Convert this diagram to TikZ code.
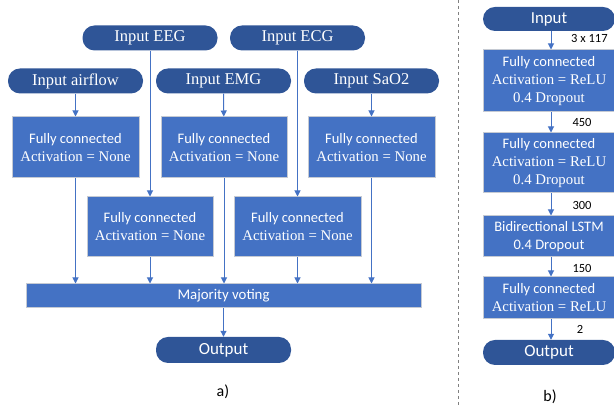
\documentclass[tikz,border=0pt]{standalone}
\usepackage{fontspec}
\setmainfont{Liberation Serif}
\newfontfamily\calib{Carlito}
\usetikzlibrary{arrows.meta}
\definecolor{pillc}{HTML}{2F5597}
\definecolor{boxc}{HTML}{4472C4}
\definecolor{edgec}{HTML}{C5CAD3}
\tikzset{
  pill/.style={fill=pillc, text=white, rounded corners=12pt, minimum height=25pt, minimum width=135pt, inner sep=0pt, font=\fontsize{16.5}{18}\selectfont},
  fcbox/.style={fill=boxc, draw=edgec, line width=1pt, text=white, align=center, inner sep=0pt, font=\fontsize{14.8}{18}\selectfont},
  sanslines/.style={font=\calib\fontsize{14.5}{18}\selectfont},
  conn/.style={draw=boxc, line width=1pt, -{Triangle[width=6pt,length=6pt]}},
  lbl/.style={font=\calib\fontsize{12.5}{14}\selectfont, text=black, inner sep=0pt}
}
\newcommand{\fcl}{{\calib\fontsize{14.5}{18}\selectfont Fully connected}}
\begin{document}
\begin{tikzpicture}[x=1pt,y=1pt]
\useasboundingbox (0,0) rectangle (614,406);
% part a
\node[pill] (eeg) at (150,368) {Input EEG};
\node[pill] (ecg) at (297.5,368) {Input ECG};
\node[pill] (air) at (75.5,325) {Input airflow};
\node[pill] (emg) at (223.5,325) {Input EMG};
\node[pill] (sao) at (371.5,325) {Input SaO2};
\node[fcbox, minimum width=127pt, minimum height=61pt] (fc1) at (75.5,258.5) {\fcl\\Activation = None};
\node[fcbox, minimum width=126pt, minimum height=61pt] (fc2) at (224,258.5) {\fcl\\Activation = None};
\node[fcbox, minimum width=127pt, minimum height=61pt] (fc3) at (371.5,258.5) {\fcl\\Activation = None};
\node[fcbox, minimum width=126pt, minimum height=60pt] (fc4) at (150,179) {\fcl\\Activation = None};
\node[fcbox, minimum width=127pt, minimum height=60pt] (fc5) at (297.5,179) {\fcl\\Activation = None};
\node[fcbox, minimum width=395pt, minimum height=24pt, font=\calib\fontsize{14.8}{16}\selectfont] (mv) at (223.5,110) {Majority voting};
\node[pill, font=\calib\fontsize{17}{18}\selectfont, minimum height=26pt] (out) at (223.5,56) {Output};
\node[lbl, font=\calib\fontsize{16}{18}\selectfont] (la) at (223,14) {a)};
\draw[conn] (air) -- (fc1);
\draw[conn] (emg) -- (fc2);
\draw[conn] (sao) -- (fc3);
\draw[conn] (eeg) -- (fc4);
\draw[conn] (ecg) -- (fc5);
\draw[conn] (fc1.south) -- (fc1.south |- mv.north);
\draw[conn] (fc2.south) -- (fc2.south |- mv.north);
\draw[conn] (fc3.south) -- (fc3.south |- mv.north);
\draw[conn] (fc4.south) -- (fc4.south |- mv.north);
\draw[conn] (fc5.south) -- (fc5.south |- mv.north);
\draw[conn] (mv) -- (out);
% separator
\coordinate (st) at (458,406);
\coordinate (sb) at (458,0);
\draw[gray, dashed, line width=0.8pt] (st) -- (sb);
% part b
\node[pill, font=\calib\fontsize{16.8}{18}\selectfont, minimum width=132pt, minimum height=24pt] (inp) at (549,387) {Input};
\node[fcbox, minimum width=132pt, minimum height=62pt] (b1) at (549,325) {\fcl\\Activation = ReLU\\0.4 Dropout};
\node[fcbox, minimum width=132pt, minimum height=60pt] (b2) at (549,243) {\fcl\\Activation = ReLU\\0.4 Dropout};
\node[fcbox, minimum width=132pt, minimum height=41pt, sanslines] (b3) at (549,169.5) {Bidirectional LSTM\\0.4 Dropout};
\node[fcbox, minimum width=132pt, minimum height=42pt] (b4) at (549,108) {\fcl\\Activation = ReLU};
\node[pill, font=\calib\fontsize{17}{18}\selectfont, minimum width=132pt, minimum height=25pt] (bout) at (549,53.5) {Output};
\draw[conn] ([xshift=2pt]inp.south) -- ([xshift=2pt]b1.north);
\draw[conn] ([xshift=2pt]b1.south) -- ([xshift=2pt]b2.north);
\draw[conn] ([xshift=2pt]b2.south) -- ([xshift=2pt]b3.north);
\draw[conn] ([xshift=2pt]b3.south) -- ([xshift=2pt]b4.north);
\draw[conn] ([xshift=2pt]b4.south) -- ([xshift=2pt]bout.north);
\node[lbl, anchor=west] (l1) at (571,368) {3 x 117};
\node[lbl] (l2) at (582,284) {450};
\node[lbl] (l3) at (582,201) {300};
\node[lbl] (l4) at (582,138) {150};
\node[lbl] (l5) at (580,77) {2};
\node[lbl, font=\calib\fontsize{16}{18}\selectfont] (lb) at (550,9) {b)};
\end{tikzpicture}
\end{document}
